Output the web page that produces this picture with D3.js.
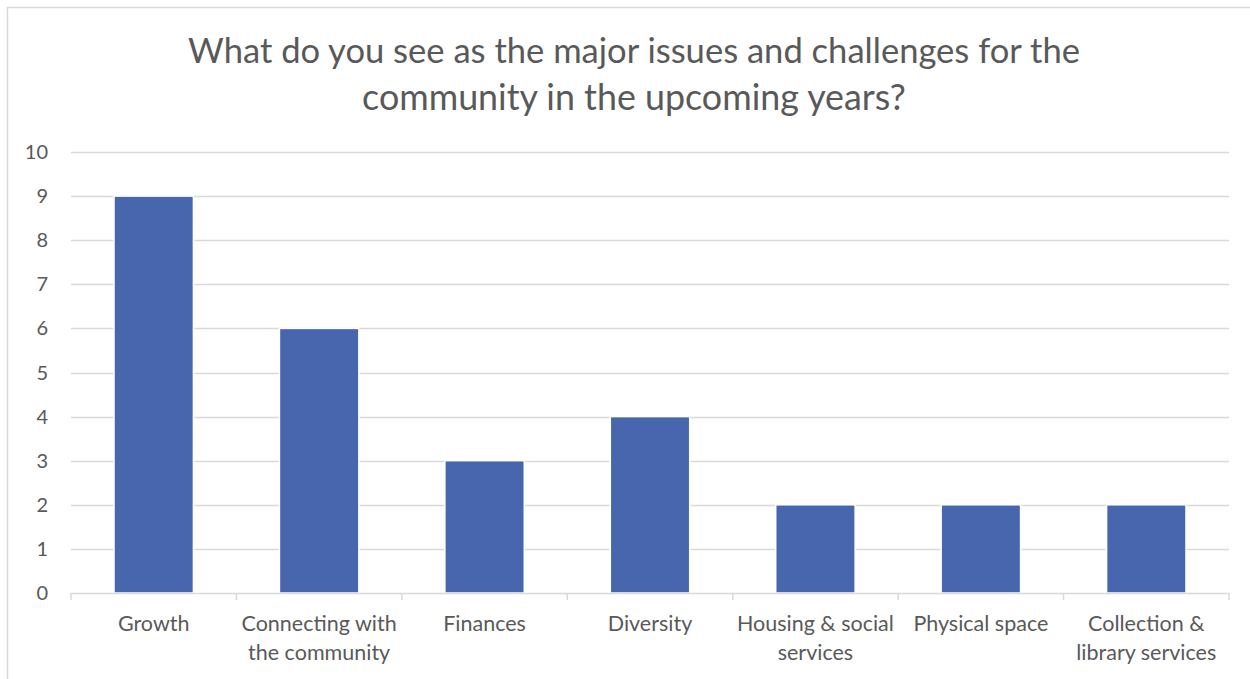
<!DOCTYPE html>
<html>
<head>
<meta charset="utf-8">
<script src="https://cdn.jsdelivr.net/npm/d3@7"></script>
<style>
  html, body { margin: 0; padding: 0; background: #fff; }
  svg { display: block; }
  text { font-family: Lato, "Open Sans", sans-serif; fill: #595959; }
</style>
</head>
<body>
<svg id="chart" width="1250" height="679"></svg>
<script>
const titleLines = [
  "What do you see as the major issues and challenges for the",
  "community in the upcoming years?"
];
const categories = [
  ["Growth"],
  ["Connecting with", "the community"],
  ["Finances"],
  ["Diversity"],
  ["Housing & social", "services"],
  ["Physical space"],
  ["Collection &", "library services"]
];
const values = [9, 6, 3, 4, 2, 2, 2];
const yTicks = [0, 1, 2, 3, 4, 5, 6, 7, 8, 9, 10];

const svg = d3.select("#chart");
const W = 1250, H = 679;
const plot = { left: 71, right: 1229, top: 152, bottom: 593 };

// chart frame
svg.append("rect")
  .attr("x", 7.5).attr("y", 7.5)
  .attr("width", W).attr("height", H)
  .attr("fill", "#fff")
  .attr("stroke", "#d9d9d9").attr("stroke-width", 1.5);

// title, sized to its line widths
const titleWidths = [892, 544];
titleLines.forEach((line, i) => {
  const t = svg.append("text")
    .attr("x", 634).attr("y", i === 0 ? 63 : 110)
    .attr("text-anchor", "middle")
    .style("font-size", "32px")
    .text(line);
  const w = t.node().getComputedTextLength();
  t.style("font-size", (32 * titleWidths[i] / w).toFixed(2) + "px");
});

const x = d3.scaleBand()
  .domain(d3.range(categories.length))
  .range([plot.left, plot.right])
  .paddingInner(0.52)
  .paddingOuter(0.26);

const xOuter = d3.scaleBand()
  .domain(d3.range(categories.length))
  .range([plot.left, plot.right]);

const y = d3.scaleLinear().domain([0, 10]).range([plot.bottom, plot.top]);

// gridlines
svg.append("g")
  .selectAll("line")
  .data(yTicks.filter(d => d > 0))
  .join("line")
  .attr("x1", plot.left).attr("x2", plot.right)
  .attr("y1", d => Math.round(y(d)) + 0.5).attr("y2", d => Math.round(y(d)) + 0.5)
  .attr("stroke", "#d9d9d9").attr("stroke-width", 1.5);

// y tick labels
svg.append("g")
  .selectAll("text")
  .data(yTicks)
  .join("text")
  .attr("x", 48)
  .attr("y", d => y(d) + 7)
  .attr("text-anchor", "end")
  .style("font-size", "20px")
  .text(d => d);

// bars
svg.append("g")
  .selectAll("rect")
  .data(values)
  .join("rect")
  .attr("x", (d, i) => x(i))
  .attr("width", x.bandwidth())
  .attr("y", d => y(d))
  .attr("height", d => y(0) - y(d))
  .attr("fill", "#4866ae")
  .attr("stroke", "#fff").attr("stroke-width", 1.5);

// category axis
const xAxis = svg.append("g");
xAxis.append("line")
  .attr("x1", plot.left).attr("x2", plot.right)
  .attr("y1", plot.bottom + 0.5).attr("y2", plot.bottom + 0.5)
  .attr("stroke", "#d9d9d9").attr("stroke-width", 1.5);
xAxis.selectAll("line.tick")
  .data(d3.range(categories.length + 1))
  .join("line")
  .attr("class", "tick")
  .attr("x1", i => i < categories.length ? xOuter(i) : plot.right)
  .attr("x2", i => i < categories.length ? xOuter(i) : plot.right)
  .attr("y1", plot.bottom).attr("y2", plot.bottom + 7)
  .attr("stroke", "#d9d9d9").attr("stroke-width", 1.5);

xAxis.selectAll("text")
  .data(categories)
  .join("text")
  .attr("text-anchor", "middle")
  .style("font-size", "21.5px")
  .each(function (lines, i) {
    const cx = xOuter(i) + xOuter.bandwidth() / 2;
    d3.select(this).selectAll("tspan")
      .data(lines)
      .join("tspan")
      .attr("x", cx)
      .attr("y", (d, j) => 631 + j * 29)
      .text(d => d);
  });
</script>
</body>
</html>
